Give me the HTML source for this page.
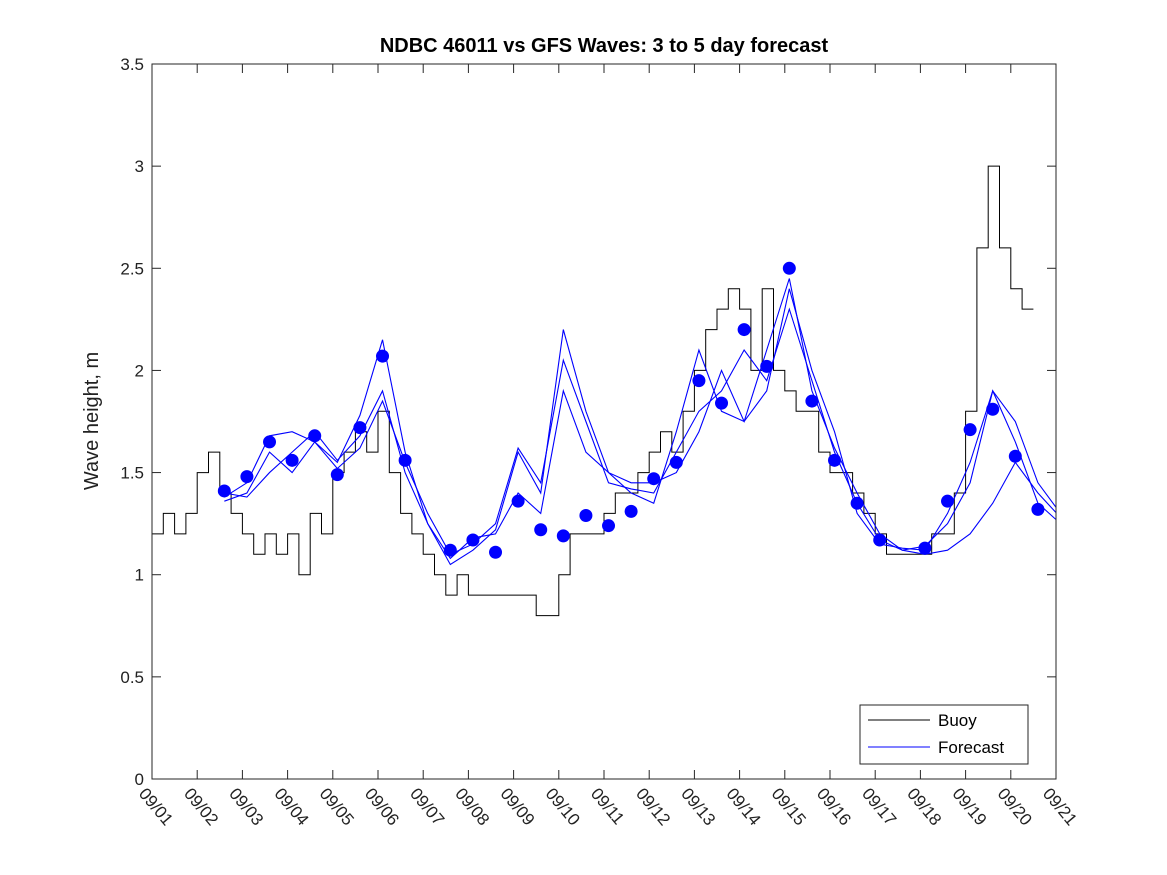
<!DOCTYPE html>
<html><head><meta charset="utf-8"><style>
html,body{margin:0;padding:0;background:#fff;}
svg{display:block;font-family:"Liberation Sans","DejaVu Sans",sans-serif;}
</style></head><body>
<svg id="chart" width="1167" height="875">
<rect x="0" y="0" width="1167" height="875" fill="#fff"/>
<text x="604" y="52" text-anchor="middle" font-size="20" font-weight="bold" fill="#000">NDBC 46011 vs GFS Waves: 3 to 5 day forecast</text>
<text transform="translate(98,421) rotate(-90)" text-anchor="middle" font-size="20" fill="#222">Wave height, m</text>
<g id="plot"></g>
<rect x="152" y="64" width="904" height="715" fill="none" stroke="#262626" stroke-width="1"/>
<g>
<rect x="860" y="705" width="168" height="59" fill="#fff" stroke="#262626" stroke-width="1"/>
<line x1="868" y1="720" x2="930" y2="720" stroke="#000"/>
<text x="938" y="726" font-size="17" fill="#000">Buoy</text>
<line x1="868" y1="747" x2="930" y2="747" stroke="#00f"/>
<text x="938" y="753" font-size="17" fill="#000">Forecast</text>
</g>
</svg>
<script>
const yTicks=[0,0.5,1,1.5,2,2.5,3,3.5];
const yTickLabels=["0","0.5","1","1.5","2","2.5","3","3.5"];
const xTickLabels=["09/01","09/02","09/03","09/04","09/05","09/06","09/07","09/08","09/09","09/10","09/11","09/12","09/13","09/14","09/15","09/16","09/17","09/18","09/19","09/20","09/21"];
// buoy: 6-hourly from day 0
const buoy=[
1.2,1.3,1.2,1.3, 1.5,1.6,1.4,1.3, 1.2,1.1,1.2,1.1, 1.2,1.0,1.3,1.2,
1.5,1.6,1.7,1.6, 1.8,1.5,1.3,1.2, 1.1,1.0,0.9,1.0, 0.9,0.9,0.9,0.9,
0.9,0.9,0.8,0.8, 1.0,1.2,1.2,1.2, 1.3,1.4,1.4,1.5, 1.6,1.7,1.6,1.8,
2.0,2.2,2.3,2.4, 2.3,2.0,2.4,2.0, 1.9,1.8,1.8,1.6, 1.5,1.5,1.4,1.3,
1.2,1.1,1.1,1.1, 1.1,1.2,1.2,1.4, 1.8,2.6,3.0,2.6, 2.4,2.3];
const buoyStart=0, buoyStep=0.25;
// forecast dots every 0.5 day starting day 1.6
const dotStart=1.6, dotStep=0.5;
const dots=[1.41,1.48,1.65,1.56,1.68,1.49,1.72,2.07,1.56,null,1.12,1.17,1.11,1.36,1.22,1.19,1.29,1.24,1.31,1.47,1.55,1.95,1.84,2.20,2.02,2.50,1.85,1.56,1.35,1.17,null,1.13,1.36,1.71,1.81,1.58,1.32];
const run1=[1.36,1.40,1.60,1.50,1.65,1.55,1.78,2.15,1.60,1.25,1.05,1.12,1.22,1.60,1.40,2.20,1.80,1.50,1.40,1.35,1.70,2.10,1.80,1.75,1.90,2.40,2.00,1.70,1.30,1.15,1.13,1.12,1.30,1.55,1.90,1.65,1.35,1.25];
const run2=[1.38,1.45,1.68,1.70,1.65,1.52,1.62,1.85,1.55,1.30,1.10,1.15,1.25,1.62,1.45,2.05,1.75,1.45,1.42,1.40,1.60,1.80,1.90,2.10,1.95,2.30,1.95,1.60,1.35,1.17,1.12,1.14,1.25,1.45,1.90,1.75,1.45,1.30];
const run3=[1.40,1.38,1.50,1.60,1.70,1.56,1.68,1.90,1.50,1.25,1.08,1.18,1.20,1.40,1.30,1.90,1.60,1.50,1.45,1.45,1.50,1.70,2.00,1.75,2.10,2.45,1.90,1.62,1.40,1.20,1.12,1.10,1.12,1.20,1.35,1.55,1.40,1.28];
const runs=[run1,run2,run3];

const X0=152,X1=1056,Y0=779,Y1=64;
const xs=d=>X0+d*(X1-X0)/20;
const ys=v=>Y0-v*(Y0-Y1)/3.5;
const NS="http://www.w3.org/2000/svg";
const svg=document.getElementById('chart');
const plot=document.getElementById('plot');
function mk(tag,attrs,parent){const e=document.createElementNS(NS,tag);for(const k in attrs)e.setAttribute(k,attrs[k]);(parent||plot).appendChild(e);return e;}
const defs=mk('defs',{},svg);
const cp=mk('clipPath',{id:'clip'},defs);
mk('rect',{x:X0,y:Y1,width:X1-X0,height:Y0-Y1},cp);
plot.setAttribute('clip-path','url(#clip)');

yTicks.forEach((v,i)=>{
  const y=ys(v);
  const t=mk('line',{x1:X0,y1:y,x2:X0+9,y2:y,stroke:'#262626'},svg);
  
  
  mk('line',{x1:X1,y1:y,x2:X1-9,y2:y,stroke:'#262626'},svg);
  const l=mk('text',{x:X0-8,y:y+6,'text-anchor':'end','font-size':17,fill:'#222'},svg);
  l.textContent=yTickLabels[i];
  
  
});
xTickLabels.forEach((s,i)=>{
  const x=xs(i);
  const t=mk('line',{x1:x,y1:Y0,x2:x,y2:Y0-9,stroke:'#262626'},svg);
  
  
  mk('line',{x1:x,y1:Y1,x2:x,y2:Y1+9,stroke:'#262626'},svg);
  const l=mk('text',{transform:`translate(${x-14},${Y0+15}) rotate(50)`,'font-size':17,fill:'#222'},svg);
  l.textContent=s;
  
  
});
let d='';
buoy.forEach((v,i)=>{
  const xa=xs(buoyStart+i*buoyStep), xb=xs(buoyStart+(i+1)*buoyStep), y=ys(v);
  d+=(i===0?'M':'L')+xa+','+y+'L'+xb+','+y;
});
const bl=mk('path',{d:d,fill:'none',stroke:'#000','stroke-width':1});


runs.forEach((r,k)=>{
  let p='';
  r.forEach((v,i)=>{p+=(i===0?'M':'L')+xs(dotStart+i*dotStep)+','+ys(v);});
  const e=mk('path',{d:p,fill:'none',stroke:'#00f','stroke-width':1.1});
  
  
});
dots.forEach((v,i)=>{
  if(v===null)return;
  const c=mk('circle',{cx:xs(dotStart+i*dotStep),cy:ys(v),r:6.5,fill:'#00f'});
  
  
});
</script>
</body></html>
